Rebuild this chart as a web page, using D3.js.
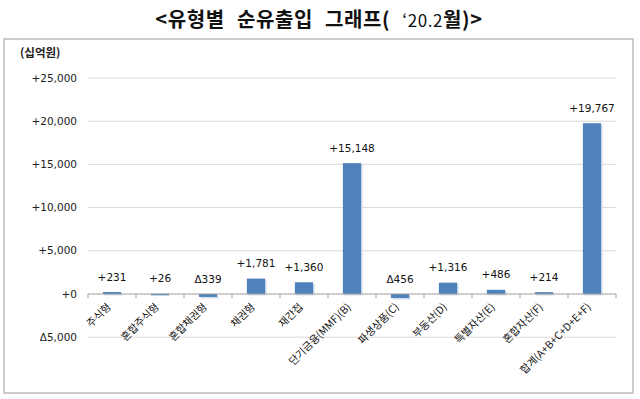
<!DOCTYPE html>
<html><head><meta charset="utf-8">
<script src="https://cdn.jsdelivr.net/npm/d3@7"></script>
<style>body{margin:0;background:#fff}svg{display:block}text{font-family:"Noto Sans CJK KR","Noto Sans",sans-serif}.num{font-family:"DejaVu Sans","Noto Sans CJK KR",sans-serif}</style>
</head><body>
<svg id="c" width="640" height="399"></svg>
<script>
const categories = ["주식형","혼합주식형","혼합채권형","채권형","재간접","단기금융(MMF)(B)","파생상품(C)","부동산(D)","특별자산(E)","혼합자산(F)","합계(A+B+C+D+E+F)"];
const values = [231, 26, -339, 1781, 1360, 15148, -456, 1316, 486, 214, 19767];
const yTicks = [-5000, 0, 5000, 10000, 15000, 20000, 25000];
const titleParts = ["<유형별 순유출입 그래프( ", "\u201820.2", "월)>"];
const unit = "(십억원)";

const svg = d3.select("#c");
const fmt = v => (v < 0 ? "\u0394" : "+") + d3.format(",")(Math.abs(v));

const t = svg.append("text").attr("x", 319).attr("y", 27).attr("text-anchor", "middle")
  .attr("font-size", 20).attr("font-weight", 700).attr("fill", "#111")
  .attr("word-spacing", 7).attr("letter-spacing", 0.6);
t.selectAll("tspan").data(titleParts).join("tspan")
  .attr("font-size", (d, i) => i === 1 ? 17 : 20)
  .attr("font-weight", (d, i) => i === 1 ? 400 : 700)
  .text(d => d);

svg.append("rect").attr("x", 4).attr("y", 39).attr("width", 629).attr("height", 354)
  .attr("fill", "#fff").attr("stroke", "#BDBDBD").attr("stroke-width", 1.5);

svg.append("text").attr("x", 20).attr("y", 57).attr("font-size", 11.5).attr("font-weight", 700)
  .attr("fill", "#222").text(unit);

const x = d3.scaleBand().domain(categories).range([88, 616]).paddingInner(0.62).paddingOuter(0.31);
const y = d3.scaleLinear().domain([-5000, 25000]).range([337.2, 78]);

// gridlines
svg.append("g").selectAll("line").data(yTicks.filter(d => d !== 0)).join("line")
  .attr("x1", 88).attr("x2", 616).attr("y1", d => y(d)).attr("y2", d => y(d))
  .attr("stroke", "#D9D9D9").attr("stroke-width", 1);

// y tick labels
svg.append("g").selectAll("text").data(yTicks).join("text")
  .attr("class", "num")
  .attr("x", 77).attr("y", d => y(d)).attr("dy", "0.35em").attr("text-anchor", "end")
  .attr("font-size", 10.5).attr("fill", "#222")
  .text(d => fmt(d));

// bars shadow
svg.append("g").selectAll("rect").data(values).join("rect")
  .attr("x", (d, i) => x(categories[i]) + 1.5)
  .attr("y", d => Math.min(y(d), y(0)) + 1.5)
  .attr("width", x.bandwidth())
  .attr("height", d => Math.abs(y(d) - y(0)))
  .attr("fill", "#D3DEEC");
// bars
svg.append("g").selectAll("rect").data(values).join("rect")
  .attr("x", (d, i) => x(categories[i]))
  .attr("y", d => Math.min(y(d), y(0)))
  .attr("width", x.bandwidth())
  .attr("height", d => Math.max(1.5, Math.abs(y(d) - y(0))))
  .attr("fill", "#4F81BD");

// zero axis
const step = x.step();
svg.append("line").attr("x1", 88).attr("x2", 616).attr("y1", y(0)).attr("y2", y(0))
  .attr("stroke", "#9E9E9E").attr("stroke-width", 1);
svg.append("g").selectAll("line").data(d3.range(categories.length + 1)).join("line")
  .attr("x1", i => 88 + i * step).attr("x2", i => 88 + i * step)
  .attr("y1", y(0)).attr("y2", y(0) + 4).attr("stroke", "#9E9E9E");

// data labels
svg.append("g").selectAll("text").data(values).join("text")
  .attr("class", "num")
  .attr("x", (d, i) => x(categories[i]) + x.bandwidth() / 2)
  .attr("y", d => y(Math.max(d, 0)) - 15)
  .attr("dy", "0.35em").attr("text-anchor", "middle")
  .attr("font-size", 10.5).attr("fill", "#111").text(d => fmt(d));

// category labels
svg.append("g").selectAll("text").data(categories).join("text")
  .attr("transform", d => `translate(${x(d) + x.bandwidth() / 2 - 3},${y(0) + 11}) rotate(-45)`)
  .attr("text-anchor", "end").attr("dy", "0.35em")
  .attr("font-size", 10.5).attr("fill", "#111").text(d => d);
</script>
</body></html>
